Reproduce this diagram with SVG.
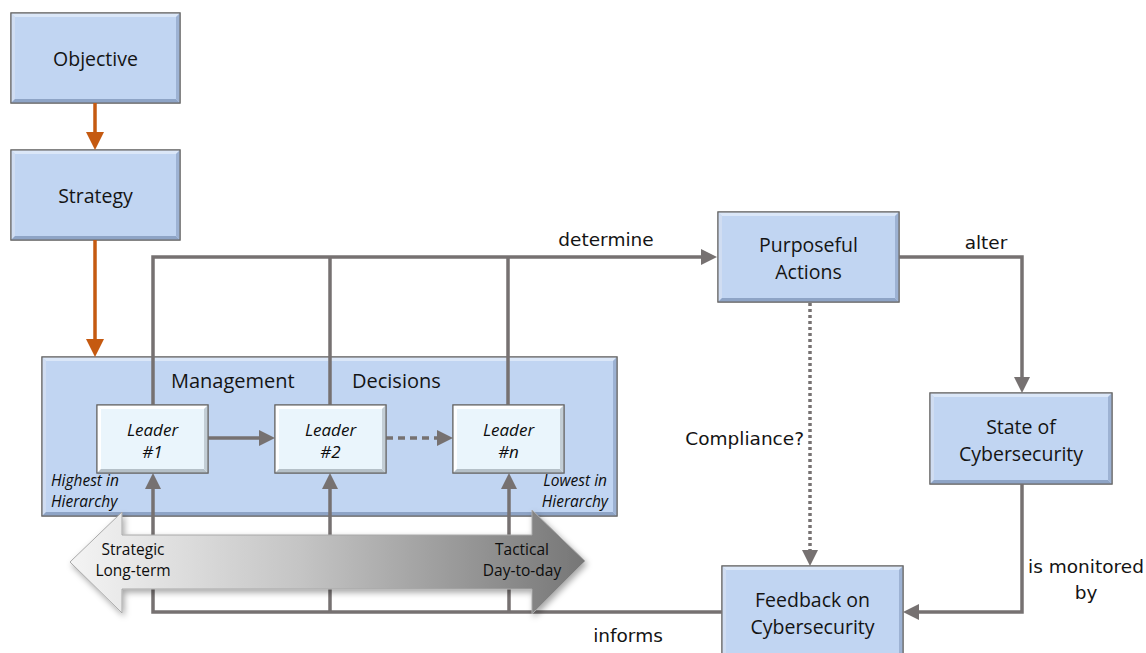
<svg xmlns="http://www.w3.org/2000/svg" width="1146" height="653" viewBox="0 0 1146 653">
<defs>
<style>
.box{fill:#c1d5f2;stroke:#6e6e6e;stroke-width:1.2}
.hl{fill:#dbe7f8}
.hs{fill:#d0ddf2}
.sh{fill:#8ea4c6}
.sr{fill:#9db2d3}
.lbox{fill:#eaf5fc;stroke:#6e6e6e;stroke-width:1.2}
.lhl{fill:#ffffff}
.lsh{fill:#b5c0c8}
.lsr{fill:#c3ced6}
.bt{font-family:"Open Sans","Liberation Sans",sans-serif;font-size:19.5px;fill:#141414;text-anchor:middle}
.lt{font-family:"Open Sans","Liberation Sans",sans-serif;font-size:17px;font-style:italic;fill:#0d0d0d;text-anchor:middle}
.ht{font-family:"Open Sans","Liberation Sans",sans-serif;font-size:15.5px;font-style:italic;fill:#0d0d0d}
.at{font-family:"Open Sans","Liberation Sans",sans-serif;font-size:15.5px;fill:#0d0d0d;text-anchor:middle}
.cl{font-family:"DejaVu Sans","Liberation Sans",sans-serif;font-size:18.5px;fill:#141414}
.c{fill:none;stroke:#767171;stroke-width:3.5}
.o{fill:none;stroke:#c55a11;stroke-width:3.5}
</style>
<marker id="ag" viewBox="0 0 10 10" refX="5" refY="5" markerUnits="userSpaceOnUse" markerWidth="16" markerHeight="16" orient="auto">
<path d="M0,0 L10,5 L0,10 z" fill="#767171"/>
</marker>
<marker id="ao" viewBox="0 0 10 10" refX="5" refY="5" markerUnits="userSpaceOnUse" markerWidth="18" markerHeight="18" orient="auto">
<path d="M0,0 L10,5 L0,10 z" fill="#c55a11"/>
</marker>
<linearGradient id="grad" x1="70" y1="0" x2="585" y2="0" gradientUnits="userSpaceOnUse">
<stop offset="0" stop-color="#f4f4f4"/>
<stop offset="0.45" stop-color="#c4c4c4"/>
<stop offset="1" stop-color="#767676"/>
</linearGradient>
<filter id="ds" x="-10%" y="-30%" width="120%" height="160%">
<feDropShadow dx="2" dy="3" stdDeviation="3" flood-color="#000" flood-opacity="0.35"/>
</filter>
</defs>

<g id="objective">
<rect class="box" x="11" y="13" width="169" height="90"/>
<path class="hl" d="M11 13 h169 l-4 4 h-161 z"/>
<path class="hs" d="M11 13 v90 l4 -4 v-82 z"/>
<path class="sh" d="M11 103 h169 l-4 -4 h-161 z"/>
<path class="sr" d="M180 13 v90 l-4 -4 v-82 z"/>
<rect x="11" y="13" width="169" height="90" fill="none" stroke="#6e6e6e" stroke-width="1.2"/>
<text class="bt" x="95.5" y="66">Objective</text>
</g>

<g id="strategy">
<rect class="box" x="11" y="150" width="169" height="90"/>
<path class="hl" d="M11 150 h169 l-4 4 h-161 z"/>
<path class="hs" d="M11 150 v90 l4 -4 v-82 z"/>
<path class="sh" d="M11 240 h169 l-4 -4 h-161 z"/>
<path class="sr" d="M180 150 v90 l-4 -4 v-82 z"/>
<rect x="11" y="150" width="169" height="90" fill="none" stroke="#6e6e6e" stroke-width="1.2"/>
<text class="bt" x="95.5" y="203">Strategy</text>
</g>

<g id="management">
<rect class="box" x="42" y="357" width="575" height="159"/>
<path class="hl" d="M42 357 h575 l-4 4 h-567 z"/>
<path class="hs" d="M42 357 v159 l4 -4 v-151 z"/>
<path class="sh" d="M42 516 h575 l-4 -4 h-567 z"/>
<path class="sr" d="M617 357 v159 l-4 -4 v-151 z"/>
<rect x="42" y="357" width="575" height="159" fill="none" stroke="#6e6e6e" stroke-width="1.2"/>
<text class="bt" x="171" y="388" style="text-anchor:start;font-size:20px">Management</text>
<text class="bt" x="352" y="388" style="text-anchor:start;font-size:20px">Decisions</text>
<text class="ht" x="51" y="486">Highest in</text>
<text class="ht" x="51" y="507">Hierarchy</text>
<text class="ht" x="607" y="486" text-anchor="end">Lowest in</text>
<text class="ht" x="608" y="507" text-anchor="end">Hierarchy</text>
</g>

<g id="purposeful-actions">
<rect class="box" x="718" y="212" width="181" height="90"/>
<path class="hl" d="M718 212 h181 l-4 4 h-173 z"/>
<path class="hs" d="M718 212 v90 l4 -4 v-82 z"/>
<path class="sh" d="M718 302 h181 l-4 -4 h-173 z"/>
<path class="sr" d="M899 212 v90 l-4 -4 v-82 z"/>
<rect x="718" y="212" width="181" height="90" fill="none" stroke="#6e6e6e" stroke-width="1.2"/>
<text class="bt" x="808.5" y="252">Purposeful</text>
<text class="bt" x="808.5" y="279">Actions</text>
</g>

<g id="state">
<rect class="box" x="930" y="393" width="182" height="91"/>
<path class="hl" d="M930 393 h182 l-4 4 h-174 z"/>
<path class="hs" d="M930 393 v91 l4 -4 v-83 z"/>
<path class="sh" d="M930 484 h182 l-4 -4 h-174 z"/>
<path class="sr" d="M1112 393 v91 l-4 -4 v-83 z"/>
<rect x="930" y="393" width="182" height="91" fill="none" stroke="#6e6e6e" stroke-width="1.2"/>
<text class="bt" x="1021" y="434">State of</text>
<text class="bt" x="1021" y="461">Cybersecurity</text>
</g>

<g id="feedback">
<rect class="box" x="722" y="566" width="181" height="100"/>
<path class="hl" d="M722 566 h181 l-4 4 h-173 z"/>
<path class="hs" d="M722 566 v100 l4 -4 v-92 z"/>
<path class="sr" d="M903 566 v100 l-4 -4 v-92 z"/>
<rect x="722" y="566" width="181" height="100" fill="none" stroke="#6e6e6e" stroke-width="1.2"/>
<text class="bt" x="812.5" y="607">Feedback on</text>
<text class="bt" x="812.5" y="634">Cybersecurity</text>
</g>

<g id="connectors">
<path class="o" d="M95 103 V141" marker-end="url(#ao)"/>
<path class="o" d="M95 240 V348" marker-end="url(#ao)"/>
<path class="c" d="M153 405 V257 H709" marker-end="url(#ag)"/>
<path class="c" d="M330 405 V257"/>
<path class="c" d="M508 405 V257"/>
<path class="c" d="M722 612 H153 V481" marker-end="url(#ag)"/>
<path class="c" d="M330 612 V481" marker-end="url(#ag)"/>
<path class="c" d="M509 612 V481" marker-end="url(#ag)"/>
<path class="c" d="M208 438 H267" marker-end="url(#ag)"/>
<path class="c" d="M386 438 H445" stroke-dasharray="7 5" marker-end="url(#ag)"/>
<path class="c" d="M899 257 H1022 V385" marker-end="url(#ag)"/>
<path class="c" d="M1022 484 V612 H911" marker-end="url(#ag)"/>
<path class="c" d="M810 303 V558" stroke-width="4" stroke-dasharray="3 3" marker-end="url(#ag)"/>
<text class="cl" x="606" y="246" text-anchor="middle">determine</text>
<text class="cl" x="986" y="249" text-anchor="middle">alter</text>
<text class="cl" x="804" y="445" text-anchor="end">Compliance?</text>
<text class="cl" x="1086" y="573" text-anchor="middle">is monitored</text>
<text class="cl" x="1086" y="599" text-anchor="middle">by</text>
<text class="cl" x="628" y="642" text-anchor="middle">informs</text>
</g>

<g id="leader-1">
<rect class="lbox" x="97" y="405" width="111" height="68"/>
<path class="lhl" d="M97 405 h111 l-4 4 h-103 z"/>
<path class="lhl" d="M97 405 v68 l4 -4 v-60 z"/>
<path class="lsh" d="M97 473 h111 l-4 -4 h-103 z"/>
<path class="lsr" d="M208 405 v68 l-4 -4 v-60 z"/>
<rect x="97" y="405" width="111" height="68" fill="none" stroke="#6e6e6e" stroke-width="1.2"/>
<text class="lt" x="152.5" y="436">Leader</text>
<text class="lt" x="152.5" y="458">#1</text>
</g>

<g id="leader-2">
<rect class="lbox" x="275" y="405" width="111" height="68"/>
<path class="lhl" d="M275 405 h111 l-4 4 h-103 z"/>
<path class="lhl" d="M275 405 v68 l4 -4 v-60 z"/>
<path class="lsh" d="M275 473 h111 l-4 -4 h-103 z"/>
<path class="lsr" d="M386 405 v68 l-4 -4 v-60 z"/>
<rect x="275" y="405" width="111" height="68" fill="none" stroke="#6e6e6e" stroke-width="1.2"/>
<text class="lt" x="330.5" y="436">Leader</text>
<text class="lt" x="330.5" y="458">#2</text>
</g>

<g id="leader-n">
<rect class="lbox" x="453" y="405" width="111" height="68"/>
<path class="lhl" d="M453 405 h111 l-4 4 h-103 z"/>
<path class="lhl" d="M453 405 v68 l4 -4 v-60 z"/>
<path class="lsh" d="M453 473 h111 l-4 -4 h-103 z"/>
<path class="lsr" d="M564 405 v68 l-4 -4 v-60 z"/>
<rect x="453" y="405" width="111" height="68" fill="none" stroke="#6e6e6e" stroke-width="1.2"/>
<text class="lt" x="508.5" y="436">Leader</text>
<text class="lt" x="508.5" y="458">#n</text>
</g>

<g id="timeline">
<polygon points="70,562 122,512 122,535 532,535 532,510 585,561 532,614 532,589 122,589 122,613" fill="url(#grad)" stroke="#a8a8a8" stroke-width="1" filter="url(#ds)"/>
<text class="at" x="133" y="555">Strategic</text>
<text class="at" x="133" y="576">Long-term</text>
<text class="at" x="522" y="555">Tactical</text>
<text class="at" x="522" y="576">Day-to-day</text>
</g>
</svg>
